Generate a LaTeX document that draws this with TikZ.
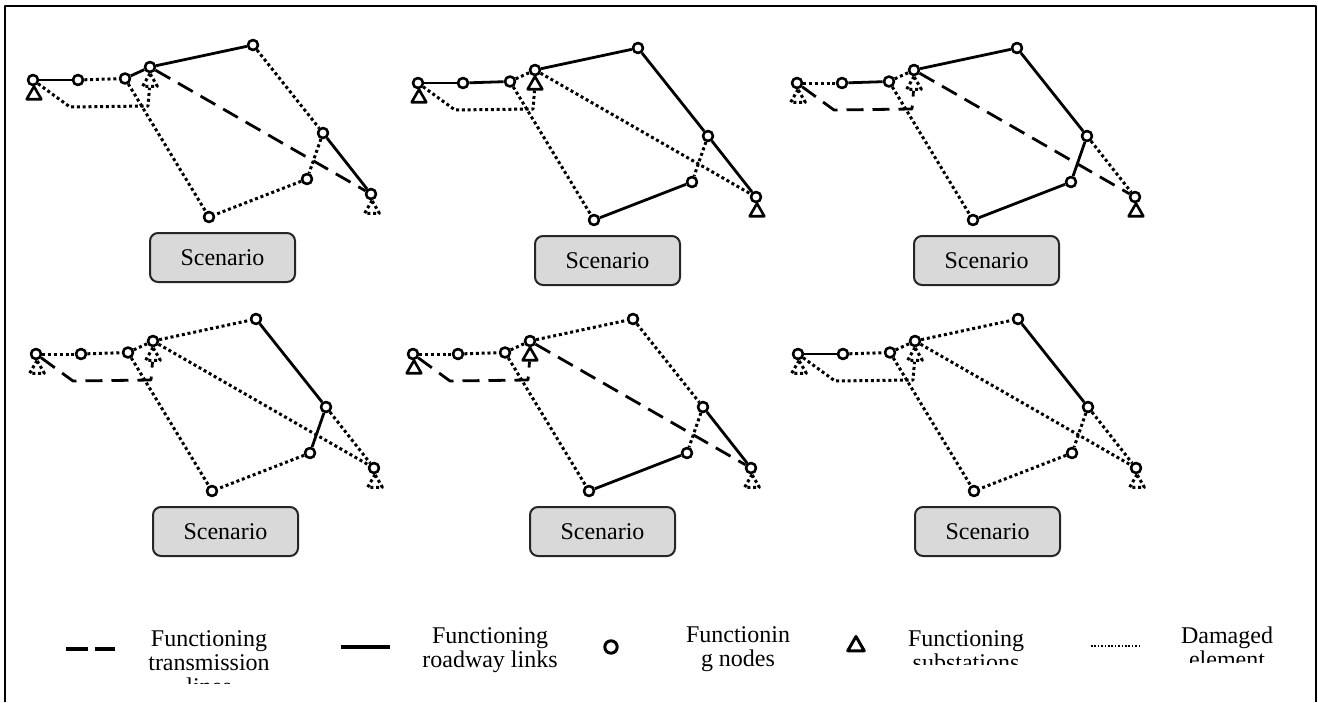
\documentclass[tikz,border=0pt]{standalone}
\usepackage{fontspec}
\setmainfont{Liberation Serif}
\usetikzlibrary{shapes.geometric}

\tikzset{
	road/.style={line width=1.4pt},
	dmg/.style={line width=1.5pt,line cap=butt,dash pattern=on 1.5pt off 1.4pt},
	tline/.style={line width=1.4pt,line cap=butt,dash pattern=on 8.5pt off 4.5pt},
	junc/.style={circle,draw,line width=1.3pt,fill=white,minimum size=5pt,inner sep=0pt},
	subok/.style={regular polygon,regular polygon sides=3,draw,line width=1.3pt,minimum size=8.5pt,inner sep=0pt},
	subdmg/.style={subok,line width=1.5pt,dash pattern=on 1.5pt off 1.4pt},
	scen/.style={draw=black!85,line width=1pt,fill=gray!30,rounded corners=4pt,minimum width=72.5pt,minimum height=24.5pt,font=\fontsize{12}{14}\selectfont},
	legtext/.style={align=center,anchor=base,inner sep=0pt,font=\fontsize{12}{11.8}\selectfont}
}

\newcommand{\netpanel}[6]{%
	\begin{scope}[shift={(#2,#3)}]
		\path
		(1,15)node[#4](#1s1){}
		(117,2)node[#5](#1s2){}
		(339,129)node[#6](#1s3){}
		(0,0)node[junc](#1n1){}
		(45,0)node[junc](#1n2){}
		(92,-1.5)node[junc](#1n3){}
		(117,-13)node[junc](#1n4){}
		(220,-35)node[junc](#1n5){}
		(290,53)node[junc](#1n6){}
		(274,99)node[junc](#1n7){}
		(176,137)node[junc](#1n8){}
		(338,114)node[junc](#1n9){}
		(37,27)coordinate(#1a)
		(115,26)coordinate(#1b)
		(189.5,177.5)node[scen](#1sc){Scenario}
		;
	\end{scope}}

\begin{document}
\begin{tikzpicture}[x=0.5pt,y=-0.5pt,line join=round]
	\useasboundingbox (0,0) rectangle (1318,702);
	%\draw[help lines,step=50] (0,0) grid (1318,702);
	\draw[line width=1.3pt] (5,702)--(5,6)--(1316,6)--(1316,702);
	
	\netpanel{A}{33}{80}{subok}{subdmg}{subdmg}
	\foreach \u/\v/\s in {n1/n2/road,n2/n3/dmg,n3/n4/road,n4/n5/road,n5/n6/dmg,n6/n9/road,n6/n7/dmg,n7/n8/dmg,n3/n8/dmg,n4/n9/tline}
	\draw[\s] (A\u)--(A\v);
	\draw[dmg] (An1)--(Aa)--(Ab)--(As2);
	
	\netpanel{B}{418}{83}{subok}{subok}{subok}
	\foreach \u/\v/\s in {n1/n2/road,n2/n3/road,n3/n4/dmg,n4/n5/road,n5/n6/road,n6/n9/road,n6/n7/dmg,n7/n8/road,n3/n8/dmg,n4/n9/dmg}
	\draw[\s] (B\u)--(B\v);
	\draw[dmg] (Bn1)--(Ba)--(Bb)--(Bs2);
	
	\netpanel{C}{797}{83}{subdmg}{subdmg}{subok}
	\foreach \u/\v/\s in {n1/n2/dmg,n2/n3/road,n3/n4/dmg,n4/n5/road,n5/n6/road,n6/n9/dmg,n6/n7/road,n7/n8/road,n3/n8/dmg,n4/n9/tline}
	\draw[\s] (C\u)--(C\v);
	\draw[tline] (Cn1)--(Ca)--(Cb)--(Cs2);
	
	\netpanel{D}{36}{354}{subdmg}{subdmg}{subdmg}
	\foreach \u/\v/\s in {n1/n2/dmg,n2/n3/dmg,n3/n4/dmg,n4/n5/dmg,n5/n6/road,n6/n9/dmg,n6/n7/road,n7/n8/dmg,n3/n8/dmg,n4/n9/dmg}
	\draw[\s] (D\u)--(D\v);
	\draw[tline] (Dn1)--(Da)--(Db)--(Ds2);
	
	\netpanel{E}{413}{354}{subok}{subok}{subdmg}
	\foreach \u/\v/\s in {n1/n2/dmg,n2/n3/dmg,n3/n4/dmg,n4/n5/dmg,n5/n6/dmg,n6/n9/road,n6/n7/dmg,n7/n8/road,n3/n8/dmg,n4/n9/tline}
	\draw[\s] (E\u)--(E\v);
	\draw[tline] (En1)--(Ea)--(Eb)--(Es2);
	
	\netpanel{F}{798}{354}{subdmg}{subdmg}{subdmg}
	\foreach \u/\v/\s in {n1/n2/road,n2/n3/dmg,n3/n4/dmg,n4/n5/dmg,n5/n6/road,n6/n9/dmg,n6/n7/dmg,n7/n8/dmg,n3/n8/dmg,n4/n9/dmg}
	\draw[\s] (F\u)--(F\v);
	\draw[dmg] (Fn1)--(Fa)--(Fb)--(Fs2);
	
	% legend
	\path
	(66,649)coordinate(ld1) (115,649)coordinate(ld2)
	(341,647)coordinate(lr1) (390,647)coordinate(lr2)
	(1091,646)coordinate(lx1) (1140,646)coordinate(lx2)
	(611,647)node[junc,line width=1.5pt,minimum size=6.2pt](lnode){}
	(856,646)node[subok,line width=1.5pt,minimum size=9.5pt](lsub){}
	;
	\draw[tline,line width=1.6pt,dash pattern=on 11pt off 3.5pt] (ld1)--(ld2);
	\draw[road,line width=1.6pt] (lr1)--(lr2);
	\draw[line width=0.8pt,dash pattern=on 0.8pt off 0.9pt] (lx1)--(lx2);
	\begin{scope}
		\clip (130,600) rectangle (290,683);
		\node[legtext] (lt1) at (209,694) {Functioning\\transmission\\lines};
	\end{scope}
	\node[legtext] (lt2) at (490,667) {Functioning\\roadway links};
	\node[legtext] (lt3) at (738,666) {Functionin\\g nodes};
	\begin{scope}
		\clip (890,600) rectangle (1045,664);
		\node[legtext] (lt4) at (966,670) {Functioning\\substations};
	\end{scope}
	\begin{scope}
		\clip (1170,600) rectangle (1290,662);
		\node[legtext] (lt5) at (1227,667) {Damaged\\element};
	\end{scope}
\end{tikzpicture}
\end{document}
